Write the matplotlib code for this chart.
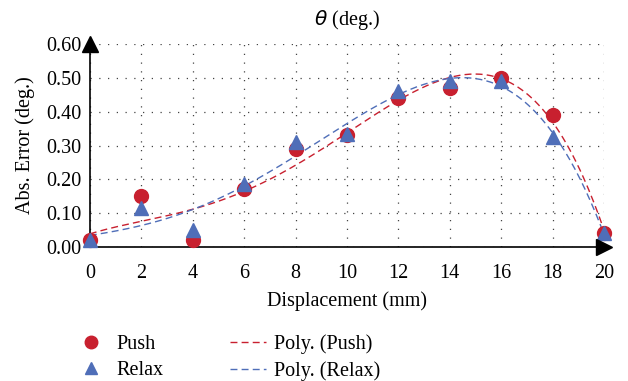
import numpy as np
import matplotlib.pyplot as plt
from matplotlib.lines import Line2D

plt.rcParams['font.family'] = ['Liberation Serif', 'DejaVu Serif']

displacement = [0, 2, 4, 6, 8, 10, 12, 14, 16, 18, 20]
push = [0.02, 0.15, 0.02, 0.17, 0.29, 0.33, 0.44, 0.47, 0.50, 0.39, 0.04]
relax = [0.02, 0.115, 0.05, 0.185, 0.31, 0.335, 0.46, 0.49, 0.49, 0.325, 0.04]

red = '#C8202F'
blue = '#4F6EB8'
fs = 14.5

fig = plt.figure(figsize=(6.28, 3.81), dpi=100)
ax = fig.add_axes([0.143, 0.352, 0.819, 0.532])

# polynomial trendlines
xs = np.linspace(0, 20, 300)
for ys, c in [(push, red), (relax, blue)]:
    coef = np.polyfit(displacement, ys, 4)
    ax.plot(xs, np.polyval(coef, xs), '--', color=c, lw=1.0, dashes=(5, 3), zorder=3)

ax.plot(displacement, push, 'o', color=red, ms=10, clip_on=False, zorder=4)
ax.plot(displacement, relax, '^', color=blue, ms=10, clip_on=False, zorder=5)

ax.set_xlim(0, 20)
ax.set_ylim(0, 0.6)
ax.set_xticks(range(0, 21, 2))
ax.set_yticks(np.arange(0, 0.61, 0.1))
ax.set_yticklabels([f'{v:.2f}' for v in np.arange(0, 0.61, 0.1)])
ax.grid(True, color='#444444', linestyle=(0, (1, 6)), lw=0.9)
ax.tick_params(axis='y', length=0, labelsize=fs, pad=6)
ax.tick_params(axis='x', length=0, labelsize=fs, pad=12)

for s in ['top', 'right']:
    ax.spines[s].set_visible(False)
for s in ['left', 'bottom']:
    ax.spines[s].set_color('black')
    ax.spines[s].set_linewidth(1.2)
ax.plot(1, 0, '>k', ms=11, transform=ax.get_yaxis_transform(), clip_on=False, zorder=6)
ax.plot(0, 1, '^k', ms=11, transform=ax.get_xaxis_transform(), clip_on=False, zorder=6)

ax.set_xlabel('Displacement (mm)', fontsize=fs, labelpad=6)
ax.set_ylabel('Abs. Error (deg.)', fontsize=fs, labelpad=8)
ax.set_title(r'$\theta$ (deg.)', fontsize=fs, pad=14)

handles = [
    Line2D([], [], ls='none', marker='o', color=red, ms=9),
    Line2D([], [], ls='none', marker='^', color=blue, ms=9),
    Line2D([], [], ls='--', color=red, lw=1.0, dashes=(5, 3)),
    Line2D([], [], ls='--', color=blue, lw=1.0, dashes=(5, 3)),
]
labels = ['Push', 'Relax', 'Poly. (Push)', 'Poly. (Relax)']
fig.legend(handles, labels, ncol=2, loc='upper left', bbox_to_anchor=(0.117, 0.122),
           frameon=False, fontsize=fs, handlelength=1.75, handletextpad=0.4,
           columnspacing=3.3, labelspacing=0.35, borderaxespad=0, borderpad=0)

fig.savefig('out.png', dpi=100)
